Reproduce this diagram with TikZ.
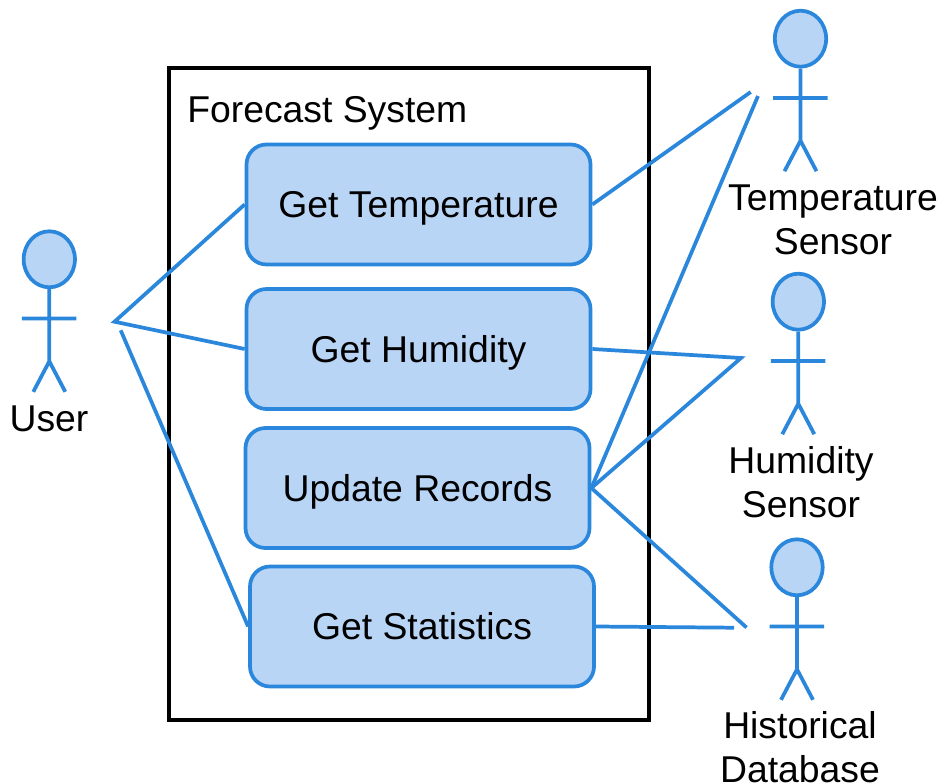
\documentclass[tikz,border=0pt]{standalone}
\usepackage{fontspec}
\usetikzlibrary{shapes.geometric}
\setmainfont{Liberation Sans}
\definecolor{ln}{HTML}{2B87DB}
\definecolor{fl}{HTML}{B9D5F6}
\tikzset{
  px/.style={x=0.75pt,y=-0.75pt},
  usecase/.style={draw=ln,fill=fl,line width=2.8pt,rounded corners=15pt,minimum width=258pt,minimum height=90pt,font=\fontsize{28pt}{33pt}\selectfont,text=black,inner sep=0pt,text height=20pt,text depth=0pt},
  conn/.style={draw=ln,line width=2.8pt},
  lab/.style={font=\fontsize{28pt}{33.2pt}\selectfont,align=center,text=black,inner sep=0pt},
  head/.style={ellipse,draw=ln,fill=fl,line width=2.8pt,minimum width=38.5pt,minimum height=42pt,inner sep=0pt}
}
\newcommand{\actor}[3]{%
  \node[head] (#3h) at (#1,#2) {};
  \coordinate (#3b) at (#1,#2+102);
  \coordinate (#3l) at (#1-27.5,#2+59.3);
  \coordinate (#3r) at (#1+27,#2+59.3);
  \coordinate (#3f) at (#1-16,#2+132.5);
  \coordinate (#3g) at (#1+16,#2+132.5);
  \draw[conn] (#3h.south) -- (#3b) (#3l) -- (#3r) (#3f) -- (#3b) -- (#3g);
}
\begin{document}
\begin{tikzpicture}[px]
\useasboundingbox (0,0) rectangle (942,784);
\node[draw=black,line width=2.8pt,minimum width=360.5pt,minimum height=489.5pt,inner sep=0pt] (sys) at (409,394) {};
\node[lab,anchor=west,text height=20pt,text depth=0pt] (title) at (187,109) {Forecast System};
\node[usecase] (t) at (418.5,204.5) {Get Temperature};
\node[usecase] (h) at (418.5,349) {Get Humidity};
\node[usecase] (u) at (417.5,488) {Update Records};
\node[usecase] (s) at (422,626.5) {Get Statistics};
\actor{49.3}{259.3}{ua}
\actor{800.5}{38.7}{ta}
\actor{798.3}{301.7}{ha}
\actor{797}{567.3}{da}
\node[lab] (ul) at (49,419) {User};
\node[lab] (tl) at (833,220) {Temperature\\Sensor};
\node[lab] (hl) at (801,482) {Humidity\\Sensor};
\node[lab] (dl) at (800,747) {Historical\\Database};
\coordinate (c1) at (114.5,321.7);
\coordinate (c2) at (120.7,330.3);
\coordinate (c3) at (750.7,92);
\coordinate (c4) at (758,96);
\coordinate (c5) at (741,358);
\coordinate (c7) at (746.5,627.5);
\coordinate (c8) at (734,627.7);
\draw[conn] (t.west) -- (c1) -- (h.west);
\draw[conn] (c2) -- (s.west);
\draw[conn] (t.east) -- (c3);
\draw[conn] (u.east) -- (c4);
\draw[conn] (h.east) -- (c5) -- (u.east);
\draw[conn] (u.east) -- (c7);
\draw[conn] (s.east) -- (c8);
\end{tikzpicture}
\end{document}
